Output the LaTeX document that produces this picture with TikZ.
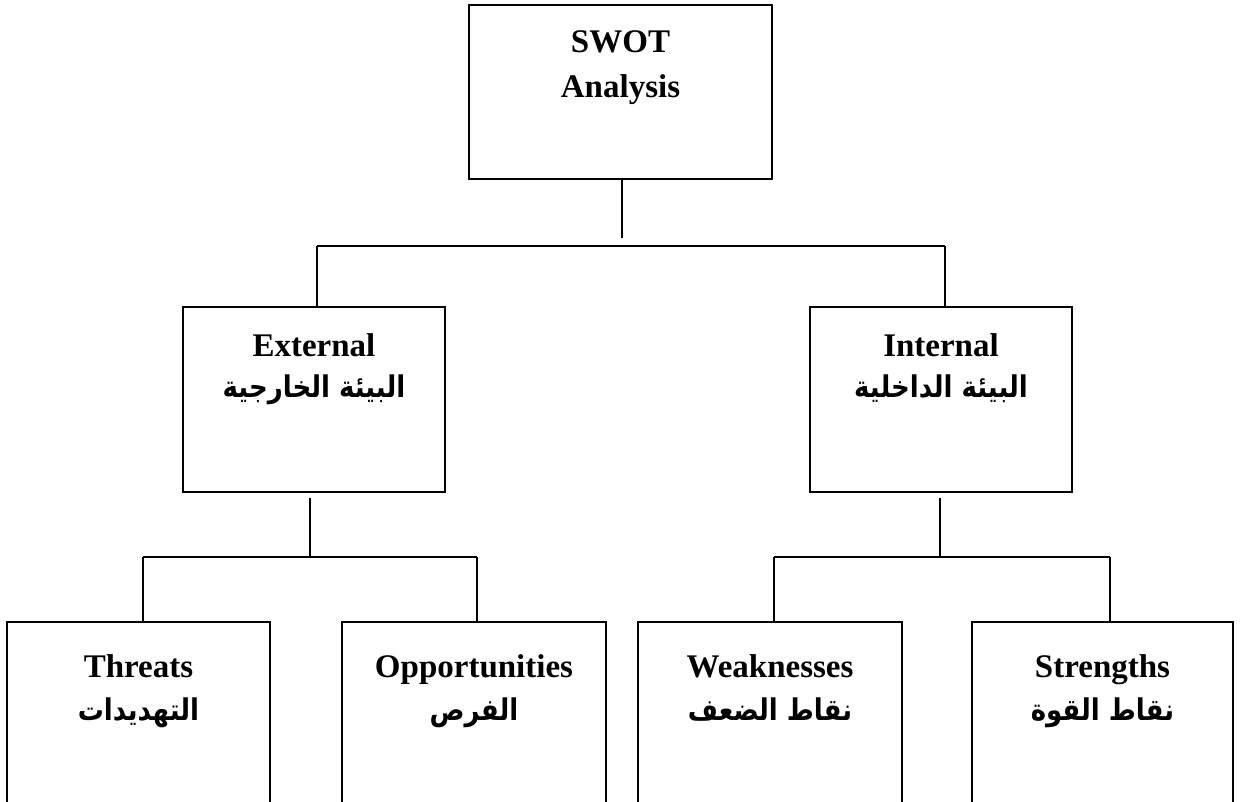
\documentclass[tikz,border=0pt]{standalone}
\usepackage{fontspec}
\usepackage{graphicx}
\setmainfont{Liberation Serif}
\newfontfamily\arabicfont[Script=Arabic]{DejaVu Sans}
\TeXXeTstate=1
\usetikzlibrary{calc}
\newcommand{\artxt}[1]{\scalebox{1}[1.15]{\beginR #1\endR}}
\tikzset{
  box/.style={draw, line width=1.4pt, inner sep=0pt, fill=none},
  conn/.style={line width=1.1pt},
  en/.style={inner sep=0pt, anchor=base, font=\fontsize{16.5}{20}\selectfont\bfseries},
  ar/.style={inner sep=0pt, anchor=base, font=\fontsize{13}{16}\selectfont\arabicfont\bfseries}
}
\begin{document}
\begin{tikzpicture}[x=0.5pt,y=-0.5pt]
\useasboundingbox (0,0) rectangle (1241,802);
\clip (0,0) rectangle (1241,802);
\fill[white] (0,0) rectangle (1241,802);
% boxes
\node[box, minimum width=151.5pt, minimum height=87pt] (swot) at (620.5,92) {};
\node[box, minimum width=131pt, minimum height=92.5pt] (ext) at (314,399.5) {};
\node[box, minimum width=131pt, minimum height=92.5pt] (int) at (941,399.5) {};
\node[box, minimum width=131.5pt, minimum height=104pt] (thr) at (138.5,726) {};
\node[box, minimum width=132pt, minimum height=104pt] (opp) at (474,726) {};
\node[box, minimum width=132pt, minimum height=104pt] (wea) at (770,726) {};
\node[box, minimum width=130.5pt, minimum height=104pt] (str) at (1102.5,726) {};
% texts
\node[en] (swot1) at (620.5,53) {SWOT};
\node[en] (swot2) at (620.5,98) {Analysis};
\node[en] (ext1) at (314,356) {External};
\node[ar] (ext2) at (314,397) {\artxt{البيئة الخارجية}};
\node[en] (int1) at (941,356) {Internal};
\node[ar] (int2) at (941,397) {\artxt{البيئة الداخلية}};
\node[en] (thr1) at (138.5,677) {Threats};
\node[ar] (thr2) at (138.5,720) {\artxt{التهديدات}};
\node[en] (opp1) at (474,677) {Opportunities};
\node[ar] (opp2) at (474,720) {\artxt{الفرص}};
\node[en] (wea1) at (770,677) {Weaknesses};
\node[ar] (wea2) at (770,720) {\artxt{نقاط الضعف}};
\node[en] (str1) at (1102.5,677) {Strengths};
\node[ar] (str2) at (1102.5,720) {\artxt{نقاط القوة}};
% connectors
\coordinate (tbl) at (317,246);
\coordinate (tbr) at (945,246);
\coordinate (lbl) at (143,557);
\coordinate (lbr) at (477,557);
\coordinate (lbc) at (310,557);
\coordinate (rbl) at (774,557);
\coordinate (rbr) at (1110,557);
\coordinate (rbc) at (940,557);
\draw[conn] (swot.south -| 622,0) -- (622,238);
\draw[conn] (tbl) -- (tbr);
\draw[conn] (tbl) -- (tbl |- ext.north);
\draw[conn] (tbr) -- (tbr |- int.north);
\draw[conn] ($(ext.south -| lbc)+(0,5)$) -- (lbc);
\draw[conn] ($(int.south -| rbc)+(0,5)$) -- (rbc);
\draw[conn] (lbl) -- (lbr);
\draw[conn] (rbl) -- (rbr);
\draw[conn] (lbl) -- (lbl |- thr.north);
\draw[conn] (lbr) -- (lbr |- opp.north);
\draw[conn] (rbl) -- (rbl |- wea.north);
\draw[conn] (rbr) -- (rbr |- str.north);
\end{tikzpicture}
\end{document}
